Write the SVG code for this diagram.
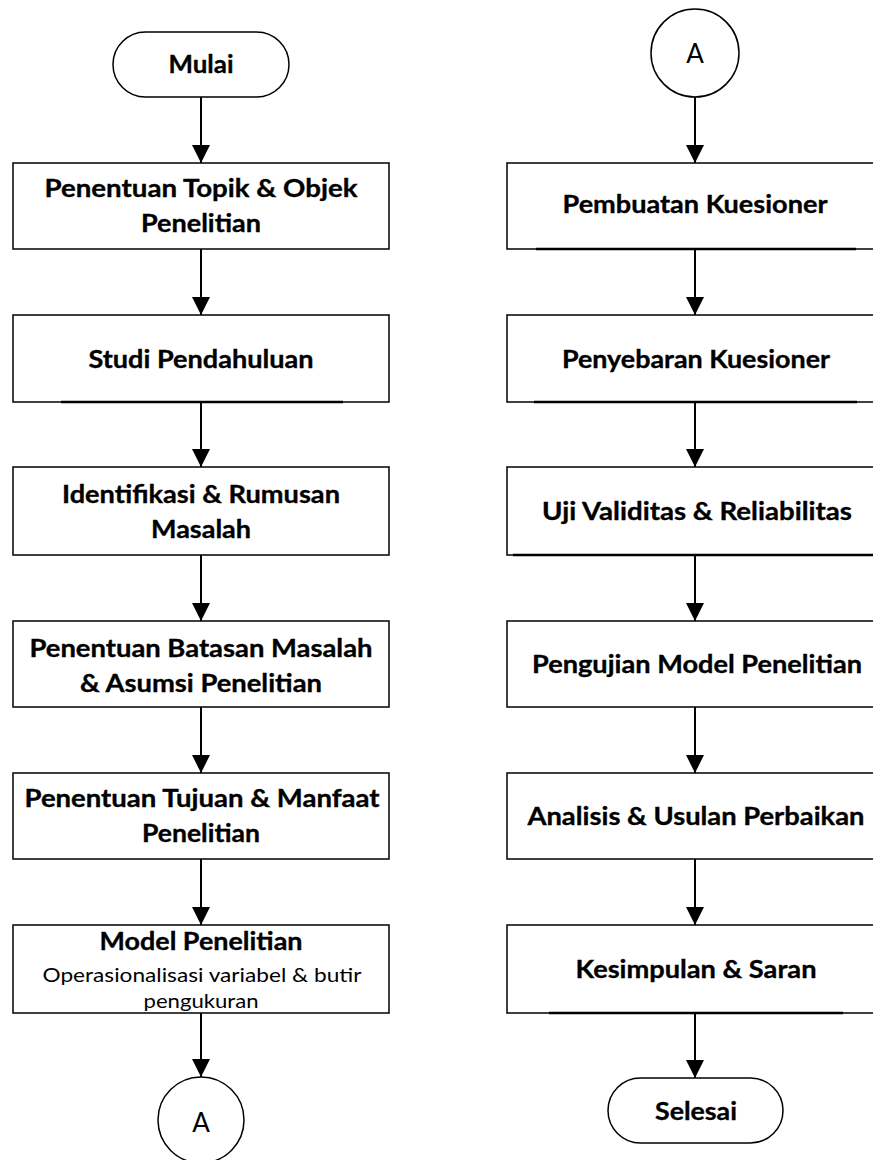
<svg xmlns="http://www.w3.org/2000/svg" width="873" height="1160" viewBox="0 0 873 1160">
<style>
.box{fill:#fff;stroke:#000;stroke-width:1.5}
.ul{stroke:#000;stroke-width:2.6}
.t{font-family:Lato,"Liberation Sans",sans-serif;font-weight:bold;font-size:25px;fill:#000;stroke:#000;stroke-width:0.35;text-anchor:middle}
.s{font-family:Lato,"Liberation Sans",sans-serif;font-size:20px;fill:#000;text-anchor:middle}
.a{font-family:Lato,"Liberation Sans",sans-serif;font-size:26px;fill:#000;text-anchor:middle}
.c{stroke:#000;stroke-width:2;fill:none;marker-end:url(#arr)}
</style>
<defs>
<marker id="arr" markerUnits="userSpaceOnUse" markerWidth="18" markerHeight="18" viewBox="0 0 18 18" refX="18" refY="9" orient="auto">
<path d="M0,0 L18,9 L0,18 Z" fill="#000"/>
</marker>
</defs>
<rect width="873" height="1160" fill="#fff"/>
<g id="connectors">
<line class="c" x1="201" y1="97" x2="201" y2="163"/>
<line class="c" x1="201" y1="249" x2="201" y2="315"/>
<line class="c" x1="201" y1="402" x2="201" y2="467"/>
<line class="c" x1="201" y1="555" x2="201" y2="621"/>
<line class="c" x1="201" y1="707" x2="201" y2="773"/>
<line class="c" x1="201" y1="859" x2="201" y2="925"/>
<line class="c" x1="201" y1="1013" x2="201" y2="1077"/>
<line class="c" x1="695" y1="97" x2="695" y2="163"/>
<line class="c" x1="695" y1="249" x2="695" y2="315"/>
<line class="c" x1="695" y1="402" x2="695" y2="467"/>
<line class="c" x1="695" y1="555" x2="695" y2="621"/>
<line class="c" x1="695" y1="707" x2="695" y2="773"/>
<line class="c" x1="695" y1="859" x2="695" y2="925"/>
<line class="c" x1="695" y1="1013" x2="695" y2="1078"/>
</g>
<g id="mulai"><rect class="box" x="113" y="32" width="176" height="65" rx="32.5"/><text class="t" x="201" y="73" textLength="65" lengthAdjust="spacingAndGlyphs">Mulai</text></g>
<g id="topik"><rect class="box" x="13" y="163" width="376" height="86"/><text class="t" x="201" y="197" textLength="313" lengthAdjust="spacingAndGlyphs">Penentuan Topik &amp; Objek</text><text class="t" x="201" y="232" textLength="120" lengthAdjust="spacingAndGlyphs">Penelitian</text></g>
<g id="studi"><rect class="box" x="13" y="315" width="376" height="87"/><line class="ul" x1="61" y1="402" x2="343" y2="402"/><text class="t" x="201" y="368" textLength="225" lengthAdjust="spacingAndGlyphs">Studi Pendahuluan</text></g>
<g id="identifikasi"><rect class="box" x="13" y="467" width="376" height="88"/><text class="t" x="201" y="503" textLength="278" lengthAdjust="spacingAndGlyphs">Identifikasi &amp; Rumusan</text><text class="t" x="201" y="538" textLength="100" lengthAdjust="spacingAndGlyphs">Masalah</text></g>
<g id="batasan"><rect class="box" x="13" y="621" width="376" height="86"/><text class="t" x="201" y="657" textLength="343" lengthAdjust="spacingAndGlyphs">Penentuan Batasan Masalah</text><text class="t" x="201" y="692" textLength="242" lengthAdjust="spacingAndGlyphs">&amp; Asumsi Penelitian</text></g>
<g id="tujuan"><rect class="box" x="13" y="773" width="376" height="86"/><text class="t" x="202" y="807" textLength="355" lengthAdjust="spacingAndGlyphs">Penentuan Tujuan &amp; Manfaat</text><text class="t" x="201" y="842" textLength="118" lengthAdjust="spacingAndGlyphs">Penelitian</text></g>
<g id="model"><rect class="box" x="13" y="925" width="376" height="88"/><text class="t" x="201" y="950" textLength="203" lengthAdjust="spacingAndGlyphs">Model Penelitian</text><text class="s" x="202" y="982" textLength="319" lengthAdjust="spacingAndGlyphs">Operasionalisasi variabel &amp; butir</text><text class="s" x="201" y="1008" textLength="115" lengthAdjust="spacingAndGlyphs">pengukuran</text></g>
<g id="a-bottom"><circle class="box" cx="201" cy="1120" r="43"/><text class="a" x="201" y="1132">A</text></g>
<g id="a-top"><circle class="box" cx="695" cy="53" r="44"/><text class="a" x="695" y="63">A</text></g>
<g id="pembuatan"><rect class="box" x="507" y="163" width="376" height="86"/><line class="ul" x1="536" y1="249" x2="856" y2="249"/><text class="t" x="695" y="213" textLength="265" lengthAdjust="spacingAndGlyphs">Pembuatan Kuesioner</text></g>
<g id="penyebaran"><rect class="box" x="507" y="315" width="376" height="87"/><line class="ul" x1="534" y1="402" x2="857" y2="402"/><text class="t" x="696" y="368" textLength="268" lengthAdjust="spacingAndGlyphs">Penyebaran Kuesioner</text></g>
<g id="uji"><rect class="box" x="507" y="467" width="376" height="88"/><line class="ul" x1="513" y1="555" x2="884" y2="555"/><text class="t" x="697" y="520" textLength="310" lengthAdjust="spacingAndGlyphs">Uji Validitas &amp; Reliabilitas</text></g>
<g id="pengujian"><rect class="box" x="507" y="621" width="376" height="86"/><text class="t" x="697" y="673" textLength="330" lengthAdjust="spacingAndGlyphs">Pengujian Model Penelitian</text></g>
<g id="analisis"><rect class="box" x="507" y="773" width="376" height="86"/><text class="t" x="696" y="825" textLength="337" lengthAdjust="spacingAndGlyphs">Analisis &amp; Usulan Perbaikan</text></g>
<g id="kesimpulan"><rect class="box" x="507" y="925" width="376" height="88"/><line class="ul" x1="549" y1="1013" x2="843" y2="1013"/><text class="t" x="696" y="978" textLength="241" lengthAdjust="spacingAndGlyphs">Kesimpulan &amp; Saran</text></g>
<g id="selesai"><rect class="box" x="608" y="1078" width="175" height="65" rx="32.5"/><text class="t" x="696" y="1120" textLength="82" lengthAdjust="spacingAndGlyphs">Selesai</text></g>
</svg>
